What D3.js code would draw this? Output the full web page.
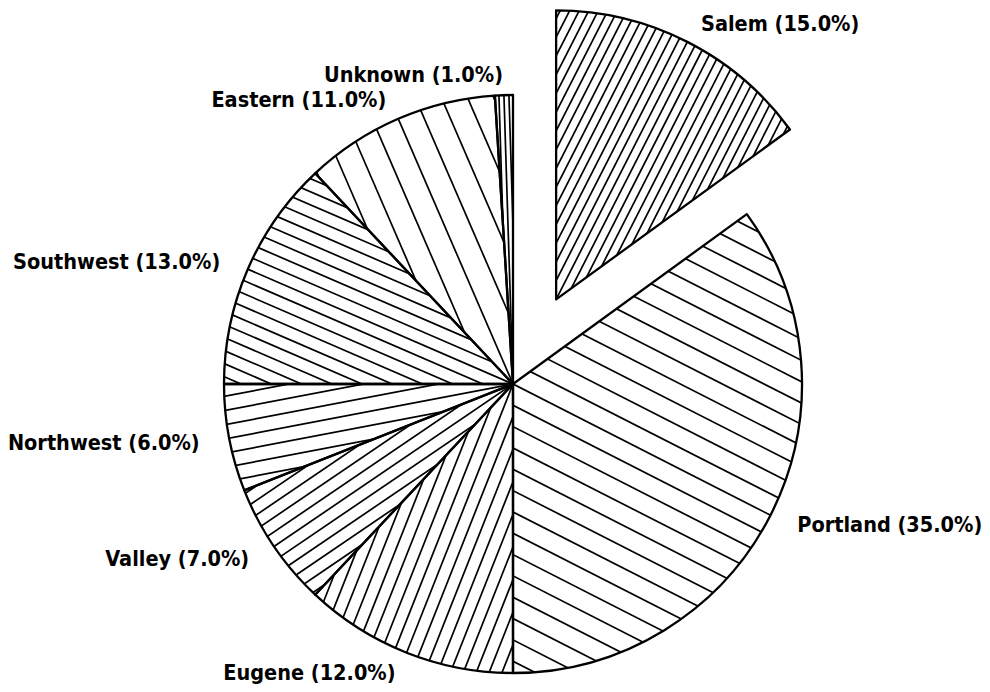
<!DOCTYPE html>
<html><head><meta charset="utf-8">
<script src="https://cdn.jsdelivr.net/npm/d3@7"></script>
<style>html,body{margin:0;padding:0;background:#fff;} svg{display:block}</style>
</head><body>
<svg id="chart" width="990" height="692"></svg>
<script>
// ---- data ----
const categories = ["Salem","Portland","Eugene","Valley","Northwest","Southwest","Eastern","Unknown"];
const shares = [15.0, 35.0, 12.0, 7.0, 6.0, 13.0, 11.0, 1.0];
const explodedCategories = ["Salem"];

// ---- style ----
const hatchSpacing = {Salem:8.5, Portland:19, Eugene:12, Valley:12, Northwest:14, Southwest:12, Eastern:24, Unknown:5};
const cx = 513, cy = 384, R = 289, explode = 95;

const svg = d3.select("#chart");
svg.append("rect").attr("width",990).attr("height",692).attr("fill","#fff");
const defs = svg.append("defs");
const data = categories.map((c,i)=>({category:c, value:shares[i]}));
const pie = d3.pie().sort(null).value(d=>d.value).startAngle(0).endAngle(2*Math.PI);
const arcs = pie(data);
const arc = d3.arc().innerRadius(0).outerRadius(R);
const fmt = d3.format(".1f");

arcs.forEach((a,i)=>{
  const mid = (a.startAngle + a.endAngle)/2;
  const ux = Math.sin(mid), uy = -Math.cos(mid);
  const isExp = explodedCategories.includes(a.data.category);
  const ox = isExp ? explode*ux : 0, oy = isExp ? explode*uy : 0;
  const clipId = "clip"+i;
  defs.append("clipPath").attr("id",clipId)
    .append("path").attr("d",arc(a)).attr("transform",`translate(${cx+ox},${cy+oy})`);
  // hatch lines parallel to the slice bisector
  const s = hatchSpacing[a.data.category];
  const nx = Math.cos(mid), ny = Math.sin(mid);
  const L = R + 20;
  const N = Math.ceil(L/s);
  const hg = svg.append("g").attr("clip-path",`url(#${clipId})`)
    .append("g").attr("transform",`translate(${cx+ox},${cy+oy})`);
  d3.range(-N, N+1).forEach(k=>{
    const px = k*s*nx, py = k*s*ny;
    hg.append("line")
      .attr("x1", px - L*ux).attr("y1", py - L*uy)
      .attr("x2", px + L*ux).attr("y2", py + L*uy)
      .attr("stroke","#000").attr("stroke-width",1.7);
  });
  // outline
  svg.append("path").attr("d",arc(a))
    .attr("transform",`translate(${cx+ox},${cy+oy})`)
    .attr("fill","none").attr("stroke","#000").attr("stroke-width",2.3).attr("stroke-linejoin","round");
  // label (horizontally condensed via transform)
  const lx = cx + ox + (R+30)*ux;
  const ly = cy + oy + (R+21)*uy;
  svg.append("text")
    .attr("transform", `translate(${lx},${ly}) scale(0.9,1)`)
    .attr("x", 0).attr("y", 0).attr("dy","0.36em")
    .attr("text-anchor", mid < Math.PI ? "start" : "end")
    .attr("font-family","DejaVu Sans, sans-serif")
    .attr("font-weight","bold")
    .attr("font-size",21.5)
    .attr("fill","#000")
    .text(`${a.data.category} (${fmt(a.data.value)}%)`);
});
</script>
</body></html>
